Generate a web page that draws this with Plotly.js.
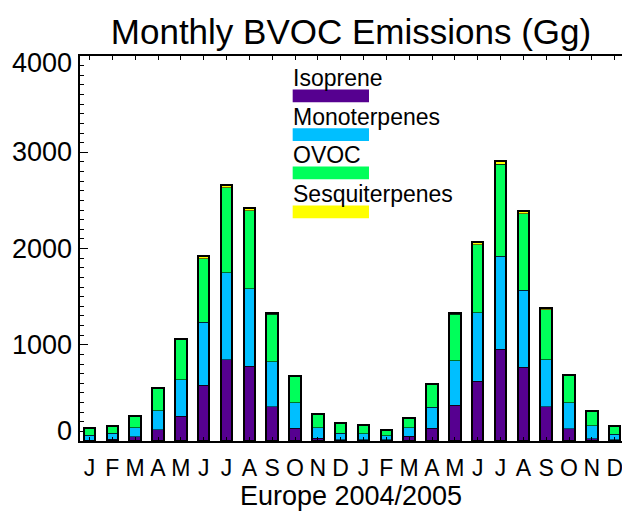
<!DOCTYPE html>
<html>
<head>
<meta charset="utf-8">
<script src="https://cdn.plot.ly/plotly-3.0.1.min.js"></script>
<style>html,body{margin:0;padding:0;background:#fff;}#chart{width:622px;height:511px;}</style>
</head>
<body>
<div id="chart"></div>
<script>
const months = ['J','F','M','A','M','J','J','A','S','O','N','D','J','F','M','A','M','J','J','A','S','O','N','D'];
const isoprene =       [5, 20, 45, 118, 255, 577, 843, 777, 355, 133, 28, 12, 13, 12, 50, 135, 374, 621, 951, 767, 358, 127, 23, 12];
const monoterpenes =   [55, 62, 95, 198, 380, 658, 904, 804, 468, 264, 112, 70, 62, 43, 90, 215, 460, 711, 969, 797, 486, 270, 135, 56];
const ovoc =           [68, 68, 115, 228, 420, 660, 884, 811, 493, 270, 137, 105, 94, 58, 98, 240, 485, 706, 953, 796, 519, 285, 148, 83];
const sesquiterpenes = [2, 2, 3, 5, 8, 25, 31, 28, 12, 6, 3, 2, 2, 2, 3, 4, 9, 26, 41, 28, 17, 6, 4, 3];
const seriesNames = ['Isoprene','Monoterpenes','OVOC','Sesquiterpenes'];
const seriesColors = ['#560090','#00BFFF','#00FF5A','#FFFF00'];
const yTicks = [0, 1000, 2000, 3000, 4000];

const idx = months.map((m, i) => i);
const seriesData = [isoprene, monoterpenes, ovoc, sesquiterpenes];
const totals = idx.map(i => seriesData.reduce((s, arr) => s + arr[i], 0));
const FONT = 'Liberation Sans, Arial, Helvetica, sans-serif';

const traces = seriesData.map((vals, k) => ({
  type: 'bar', x: idx, y: vals, name: seriesNames[k], width: 0.5,
  marker: {color: seriesColors[k], line: {color: 'rgba(0,0,0,0.55)', width: 1}},
  showlegend: false, hoverinfo: 'y+name'
}));
traces.push({
  type: 'bar', x: idx, y: totals, xaxis: 'x2', width: 0.5,
  marker: {color: 'rgba(0,0,0,0)', line: {color: '#000', width: 2}},
  showlegend: false, hoverinfo: 'skip'
});

// legend (text above swatch), in paper coords
const legX0 = 0.3924, legX1 = 0.5332;
const swTops = [0.913, 0.8125, 0.713, 0.6117];
const swH = 0.033;
const shapes = [];
const annotations = [];
seriesNames.forEach((n, k) => {
  shapes.push({type: 'rect', xref: 'paper', yref: 'paper', x0: legX0, x1: legX1,
    y0: swTops[k] - swH, y1: swTops[k], fillcolor: seriesColors[k], line: {width: 0}});
  annotations.push({xref: 'paper', yref: 'paper', x: legX0, y: swTops[k],
    xanchor: 'left', yanchor: 'bottom', showarrow: false, text: n,
    font: {family: FONT, size: 23, color: '#000'}, xshift: -2, yshift: -4});
});
// y tick labels (IDL-style: end labels pulled inside the axis range)
yTicks.forEach((v, k) => {
  let ys = 0;
  if (k === 0) ys = 10;
  if (k === yTicks.length - 1) ys = -7;
  annotations.push({xref: 'paper', yref: 'y', x: 0, y: v, xanchor: 'right', yanchor: 'middle',
    xshift: -6, yshift: ys, showarrow: false, text: String(v),
    font: {family: FONT, size: 27, color: '#000'}});
});

const layout = {
  width: 622, height: 511,
  margin: {l: 80, r: 0, t: 56, b: 70, pad: 0},
  paper_bgcolor: '#fff', plot_bgcolor: '#fff',
  barmode: 'stack',
  title: {text: 'Monthly BVOC Emissions (Gg)', x: 0.5, xref: 'paper', y: 1, yref: 'paper',
    yanchor: 'bottom', pad: {b: 12}, font: {family: FONT, size: 35, color: '#000'}},
  xaxis: {range: [-0.416, 23.32], tickmode: 'array', tickvals: idx, ticktext: months,
    ticks: 'inside', ticklen: 4, tickcolor: '#000', showline: true, linewidth: 2, linecolor: '#000',
    mirror: 'ticks', showgrid: false, zeroline: false, ticklabeloverflow: 'allow',
    ticklabelstandoff: 5,
    tickfont: {family: FONT, size: 23, color: '#000'},
    title: {text: 'Europe 2004/2005', font: {family: FONT, size: 27, color: '#000'}, standoff: 3}},
  xaxis2: {range: [-0.416, 23.32], overlaying: 'x', visible: false},
  yaxis: {range: [0, 4000], tickmode: 'array', tickvals: yTicks, showticklabels: false,
    ticks: 'inside', ticklen: 8, tickwidth: 1, tickcolor: '#000',
    minor: {dtick: 100, ticks: 'inside', ticklen: 4, tickcolor: '#000'},
    showline: true, linewidth: 2, linecolor: '#000', mirror: false,
    showgrid: false, zeroline: false},
  shapes: shapes, annotations: annotations
};
Plotly.newPlot('chart', traces, layout, {displayModeBar: false, staticPlot: true});
</script>
</body>
</html>
